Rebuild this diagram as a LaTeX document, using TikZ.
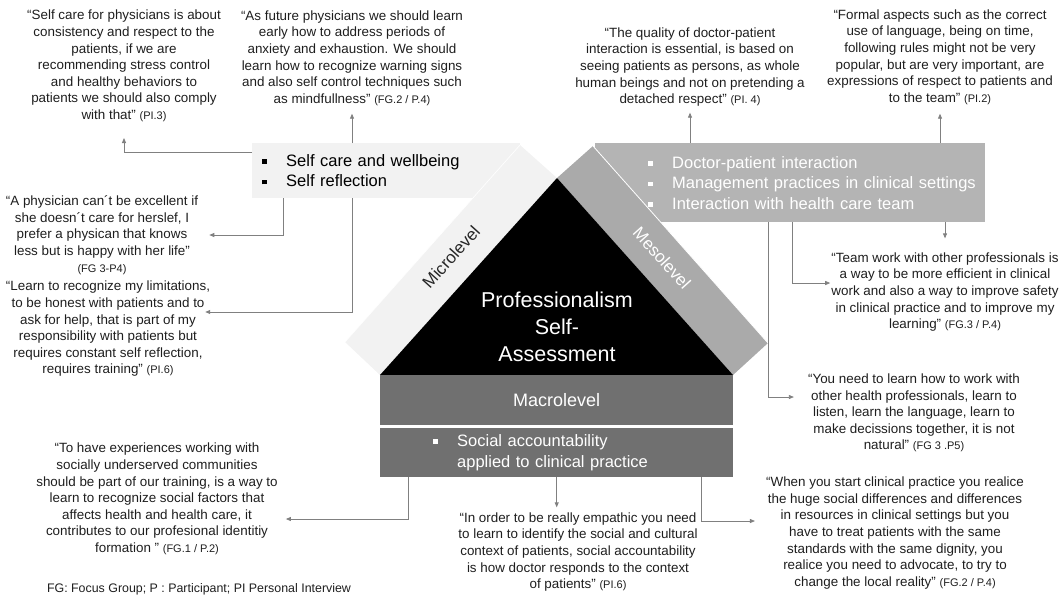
\documentclass[tikz,border=0pt]{standalone}
\usepackage{fontspec}
\setmainfont{Liberation Sans}
\usepackage{xcolor}
\usetikzlibrary{arrows.meta}

\definecolor{microfill}{RGB}{242,242,242}
\definecolor{mesofill}{RGB}{180,180,180}
\definecolor{mesoband}{RGB}{170,170,170}
\definecolor{macrofill}{RGB}{112,112,112}
\definecolor{linkgray}{RGB}{128,128,128}
\definecolor{quotetext}{RGB}{30,30,30}

\newcommand{\itm}{\makebox[24pt][l]{\raisebox{2.5pt}{\rule{4.5pt}{4.5pt}}}}
\newcommand{\src}[1]{{\fontsize{11}{13}\selectfont #1}}
\newcommand{\qm}{“}
\newcommand{\qe}{”}

\tikzset{
  quote/.style={align=center, text=quotetext, inner sep=0pt, font=\fontsize{13.4}{16.6}\selectfont},
  link/.style={draw=linkgray, line width=0.8pt, -{Triangle[length=5pt,width=4pt]}},
  levelbox/.style={anchor=north west, inner ysep=0pt, align=left, font=\fontsize{16.5}{20.4}\selectfont},
}

\begin{document}
\begin{tikzpicture}[x=1pt, y=-1pt]
    \useasboundingbox (0,0) rectangle (1064,598);

    \node[levelbox, fill=microfill, minimum width=268pt, minimum height=55pt, text width=248pt, inner xsep=10pt] (self) at (252,143)
        {\itm Self care and wellbeing\\ \itm Self reflection};
    \node[levelbox, fill=mesofill, text=white, minimum height=79pt, text width=390pt, inner xsep=0pt] (meso) at (595,143)
        {\hspace*{53pt}\itm Doctor-patient interaction\\
         \hspace*{53pt}\itm\mbox{Management practices in clinical settings}\\
         \hspace*{53pt}\itm Interaction with health care team};

    \fill[microfill] (520,145) -- (557,178) -- (380,375) -- (345,342) -- cycle;
    \draw[white, line width=0.6pt] (520,145) -- (345,342);
    \fill[mesoband] (593,146) -- (768,343) -- (733,375) -- (557,178) -- cycle;
    \draw[white, line width=0.8pt] (593,146) -- (768,343);
    \fill[black] (557,178) -- (733,375) -- (380,375) -- cycle;

    \node[rotate=48, text=black!85, font=\fontsize{17}{20}\selectfont] (micro) at (451,257) {Microlevel};
    \node[rotate=-48, text=white, font=\fontsize{17}{20}\selectfont] (mesolabel) at (662,258) {Mesolevel};
    \node[align=center, text=white, font=\fontsize{21.5}{27}\selectfont] (core) at (557,327) {Professionalism\\Self-\\Assessment};

    \node[anchor=north west, fill=macrofill, text=white, minimum width=353pt, minimum height=50pt, inner sep=0pt, font=\fontsize{18}{22}\selectfont] (macro) at (380,375) {Macrolevel};
    \node[anchor=north west, fill=macrofill, text=white, minimum height=49pt, text width=353pt, inner sep=0pt, align=left, font=\fontsize{16.5}{21}\selectfont] (soc) at (380,428)
        {\hspace*{53pt}\itm Social accountability\\ \hspace*{77pt}applied to clinical practice};

    \node[quote] (q1) at (124,66) {\qm Self care for physicians is about\\consistency and respect to the\\patients, if we are\\recommending stress control\\and healthy behaviors to\\patients we should also comply\\with that\qe\ \src{(PI.3)}};
    \node[quote] (q2) at (352,58) {\qm As future physicians we should learn\\early how to address periods of\\anxiety and exhaustion. We should\\learn how to recognize warning signs\\and also self control techniques such\\as mindfullness\qe\ \src{(FG.2 / P.4)}};
    \node[quote] (q3) at (690,67) {\qm The quality of doctor-patient\\interaction is essential, is based on\\seeing patients as persons, as whole\\human beings and not on pretending a\\detached respect\qe\ \src{(PI. 4)}};
    \node[quote] (q4) at (940,57) {\qm Formal aspects such as the correct\\use of language, being on time,\\following rules might not be very\\popular, but are very important, are\\expressions of respect to patients and\\to the team\qe\ \src{(PI.2)}};
    \node[quote] (q5) at (102,235) {\qm A physician can´t be excellent if\\she doesn´t care for herslef, I\\prefer a physican that knows\\less but is happy with her life\qe\\\src{(FG 3-P4)}};
    \node[quote] (q6) at (108,329) {\qm Learn to recognize my limitations,\\to be honest with patients and to\\ask for help, that is part of my\\responsibility with patients but\\requires constant self reflection,\\requires training\qe\ \src{(PI.6)}};
    \node[quote] (q7) at (945,292) {\qm Team work with other professionals is\\a way to be more efficient in clinical\\work and also a way to improve safety\\in clinical practice and to improve my\\learning\qe\ \src{(FG.3 / P.4)}};
    \node[quote] (q8) at (914,413) {\qm You need to learn how to work with\\other health professionals, learn to\\listen, learn the language, learn to\\make decissions together, it is not\\natural\qe\ \src{(FG 3 .P5)}};
    \node[quote] (q9) at (157,499) {\qm To have experiences working with\\socially underserved communities\\should be part of our training, is a way to\\learn to recognize social factors that\\affects health and health care, it\\contributes to our profesional identitiy\\formation \qe\ \src{(FG.1 / P.2)}};
    \node[quote] (q10) at (578,552) {\qm In order to be really empathic you need\\to learn to identify the social and cultural\\context of patients, social accountability\\is how doctor responds to the context\\of patients\qe\ \src{(PI.6)}};
    \node[quote] (q11) at (895,533) {\qm When you start clinical practice you realice\\the huge social differences and differences\\in resources in clinical settings but you\\have to treat patients with the same\\standards with the same dignity, you\\realice you need to advocate, to try to\\change the local reality\qe\ \src{(FG.2 / P.4)}};
    \node[quote, font=\fontsize{12.4}{15}\selectfont] (key) at (199,589) {FG: Focus Group; P : Participant; PI Personal Interview};

    \draw[link, shorten >=16pt] ([yshift=-9pt]self.north west) -| (q1.south);
    \draw[link, shorten >=8pt] (q2.south |- self.north) -- (q2.south);
    \draw[link, shorten >=11pt] ([xshift=31pt]self.south west) |- (q5.east);
    \draw[link] (q2.south |- self.south) |- ([xshift=-5pt, yshift=17pt]q6.east);
    \draw[link, shorten >=6pt] (q3.south |- meso.north) -- (q3.south);
    \draw[link, shorten >=9pt] (q4.south |- meso.north) -- (q4.south);
    \draw[link, shorten >=14pt] (q7.north |- meso.south) -- (q7.north);
    \draw[link, shorten >=1pt] ([xshift=197pt]meso.south west) |- ([yshift=9pt]q7.west);
    \draw[link, shorten >=14pt] ([xshift=173pt]meso.south west) |- ([yshift=16pt]q8.west);
    \draw[link, shorten >=8pt] ([xshift=28pt]soc.south west) |- ([yshift=-20pt]q9.east);
    \draw[link, shorten >=5pt] (soc.south) -- (soc.south |- q10.north);
    \draw[link, shorten >=11pt] ([xshift=321pt]soc.south west) |- ([yshift=12pt]q11.west);
\end{tikzpicture}
\end{document}
